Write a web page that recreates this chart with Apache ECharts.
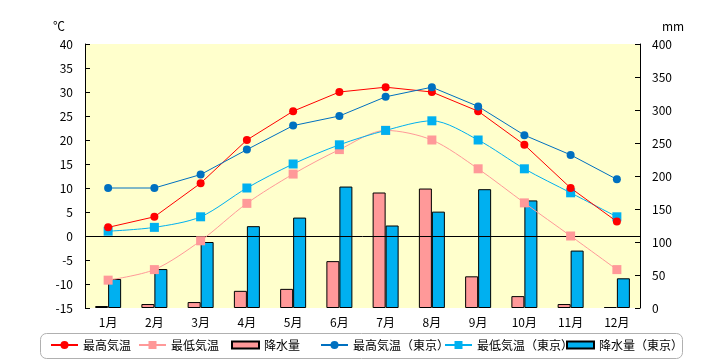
<!DOCTYPE html>
<html><head><meta charset="utf-8">
<script src="https://cdn.jsdelivr.net/npm/echarts@6/dist/echarts.min.js"></script>
<style>html,body{margin:0;padding:0;background:#fff}#c{width:720px;height:360px}</style>
</head><body><div id="c"></div>
<script>
const months = ['1月','2月','3月','4月','5月','6月','7月','8月','9月','10月','11月','12月'];
const maxTemp = [1.8, 4.0, 11.0, 20.0, 26.0, 30.0, 31.0, 30.0, 26.0, 19.0, 10.0, 3.0];
const minTemp = [-9.2, -7.0, -1.0, 6.8, 12.9, 18.0, 22.0, 20.0, 14.0, 6.9, 0.0, -7.0];
const precip = [3, 6, 9, 26, 29, 71, 175, 181, 48, 18, 6, 1.5];
const maxTokyo = [10.0, 10.0, 12.8, 18.0, 23.0, 25.0, 29.0, 31.0, 27.0, 21.0, 16.9, 11.8];
const minTokyo = [1.0, 1.8, 4.0, 10.0, 15.0, 19.0, 22.0, 24.0, 20.0, 14.0, 9.0, 4.0];
const precipTokyo = [44, 59, 100, 124, 137, 184, 125, 146, 180, 163, 87, 45];
const tempTicks = {min: -15, max: 40, interval: 5};
const precipTicks = {min: 0, max: 400, interval: 50};
const legendNames = ['最高気温', '最低気温', '降水量', '最高気温（東京）', '最低気温（東京）', '降水量（東京）'];
const legendLeft = [50, 138, 231, 320, 444, 566];

const font = '"Noto Sans CJK JP", "Noto Sans", sans-serif';
const barIcon = 'path://M0,0H27V7H0Z';
const legends = legendNames.map((n, i) => ({
  left: legendLeft[i], top: 339, padding: 0,
  itemWidth: 27, itemHeight: 10,
  textStyle: {fontSize: 12, color: '#000', fontFamily: font},
  data: [(i === 2 || i === 5) ? {name: n, icon: barIcon} : {name: n}]
}));

const chart = echarts.init(document.getElementById('c'));
chart.setOption({
  animation: false,
  textStyle: {fontFamily: font, color: '#000'},
  grid: {left: 85, right: 80, top: 44, bottom: 52, show: true, backgroundColor: '#FFFFCC', borderWidth: 0},
  graphic: [{type: 'rect', left: 40, top: 333, z: -1, silent: true,
    shape: {width: 642, height: 25, r: 6},
    style: {fill: '#fff', stroke: '#b0b0b0', lineWidth: 1}}],
  legend: legends,
  xAxis: {
    type: 'category', data: months,
    axisLine: {show: false}, axisTick: {show: false},
    axisLabel: {color: '#000', fontSize: 12, margin: 8}
  },
  yAxis: [
    {type: 'value', min: tempTicks.min, max: tempTicks.max, interval: tempTicks.interval,
     name: '℃', nameLocation: 'end', nameGap: 12, nameTextStyle: {color: '#000', fontSize: 12, align: 'right', padding: [0, 20, 0, 0]},
     axisLine: {show: true, lineStyle: {color: '#000'}},
     axisTick: {show: true, inside: true, length: 5, lineStyle: {color: '#000'}},
     axisLabel: {color: '#000', fontSize: 12, margin: 12},
     splitLine: {show: false}},
    {type: 'value', min: precipTicks.min, max: precipTicks.max, interval: precipTicks.interval,
     name: 'mm', nameLocation: 'end', nameGap: 12, nameTextStyle: {color: '#000', fontSize: 12, align: 'left', padding: [0, 0, 0, 22]},
     axisLine: {show: true, lineStyle: {color: '#000'}},
     axisTick: {show: true, inside: true, length: 5, lineStyle: {color: '#000'}},
     axisLabel: {color: '#000', fontSize: 12, margin: 12},
     splitLine: {show: false}}
  ],
  series: [
    {name: '降水量', type: 'bar', yAxisIndex: 1, data: precip, barWidth: 13, barGap: '0%',
     itemStyle: {color: '#FF9999', borderColor: '#000', borderWidth: 1}, z: 1},
    {name: '降水量（東京）', type: 'bar', yAxisIndex: 1, data: precipTokyo, barWidth: 13, barGap: '0%',
     itemStyle: {color: '#00B0F0', borderColor: '#000', borderWidth: 1}, z: 1},
    {name: '最高気温', type: 'line', yAxisIndex: 0, data: maxTemp, symbol: 'circle', symbolSize: 8,
     itemStyle: {color: '#FF0000'}, lineStyle: {color: '#FF0000', width: 1}, z: 5,
     markLine: {silent: true, symbol: 'none', label: {show: false},
       lineStyle: {color: '#000', type: 'solid', width: 1}, data: [{yAxis: 0}], z: 3}},
    {name: '最低気温', type: 'line', yAxisIndex: 0, data: minTemp, symbol: 'rect', symbolSize: 9, smooth: 0.3,
     itemStyle: {color: '#FF9999'}, lineStyle: {color: '#FF9999', width: 1}, z: 4},
    {name: '最高気温（東京）', type: 'line', yAxisIndex: 0, data: maxTokyo, symbol: 'circle', symbolSize: 8,
     itemStyle: {color: '#0070C0'}, lineStyle: {color: '#0070C0', width: 1}, z: 5},
    {name: '最低気温（東京）', type: 'line', yAxisIndex: 0, data: minTokyo, symbol: 'rect', symbolSize: 9, smooth: 0.3,
     itemStyle: {color: '#00B0F0'}, lineStyle: {color: '#00B0F0', width: 1}, z: 4}
  ]
});
</script></body></html>
